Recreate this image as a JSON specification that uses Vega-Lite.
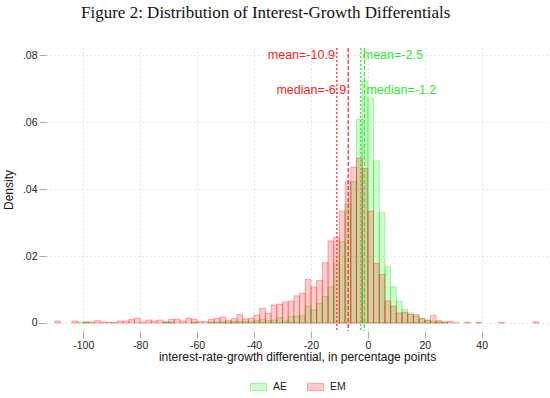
{
  "$schema": "https://vega.github.io/schema/vega-lite/v6.json",
  "width": 502,
  "height": 283,
  "autosize": {"type": "none"},
  "padding": {"left": 46, "top": 48, "right": 2, "bottom": 67},
  "title": {"text": "Figure 2: Distribution of Interest-Growth Differentials", "font": "Liberation Serif", "fontSize": 17, "fontWeight": "normal", "color": "#111111", "anchor": "start", "frame": "group", "dx": 35, "offset": 25},
  "datasets": {
    "hist": [
      {"group": "AE", "bin_start": -102, "bin_end": -100, "density": 0.0003},
      {"group": "AE", "bin_start": -100, "bin_end": -98, "density": 0.0002},
      {"group": "AE", "bin_start": -72, "bin_end": -70, "density": 0.0002},
      {"group": "AE", "bin_start": -70, "bin_end": -68, "density": 0.0003},
      {"group": "AE", "bin_start": -62, "bin_end": -60, "density": 0.0003},
      {"group": "AE", "bin_start": -56, "bin_end": -54, "density": 0.0003},
      {"group": "AE", "bin_start": -54, "bin_end": -52, "density": 0.0002},
      {"group": "AE", "bin_start": -52, "bin_end": -50, "density": 0.0004},
      {"group": "AE", "bin_start": -50, "bin_end": -48, "density": 0.0003},
      {"group": "AE", "bin_start": -48, "bin_end": -46, "density": 0.0004},
      {"group": "AE", "bin_start": -46, "bin_end": -44, "density": 0.0005},
      {"group": "AE", "bin_start": -44, "bin_end": -42, "density": 0.0004},
      {"group": "AE", "bin_start": -42, "bin_end": -40, "density": 0.0005},
      {"group": "AE", "bin_start": -40, "bin_end": -38, "density": 0.0007},
      {"group": "AE", "bin_start": -38, "bin_end": -36, "density": 0.0011},
      {"group": "AE", "bin_start": -36, "bin_end": -34, "density": 0.0007},
      {"group": "AE", "bin_start": -34, "bin_end": -32, "density": 0.0009},
      {"group": "AE", "bin_start": -32, "bin_end": -30, "density": 0.0016},
      {"group": "AE", "bin_start": -30, "bin_end": -28, "density": 0.0006},
      {"group": "AE", "bin_start": -28, "bin_end": -26, "density": 0.0019},
      {"group": "AE", "bin_start": -26, "bin_end": -24, "density": 0.0021},
      {"group": "AE", "bin_start": -24, "bin_end": -22, "density": 0.0022},
      {"group": "AE", "bin_start": -22, "bin_end": -20, "density": 0.0051},
      {"group": "AE", "bin_start": -20, "bin_end": -18, "density": 0.0039},
      {"group": "AE", "bin_start": -18, "bin_end": -16, "density": 0.0059},
      {"group": "AE", "bin_start": -16, "bin_end": -14, "density": 0.0079},
      {"group": "AE", "bin_start": -14, "bin_end": -12, "density": 0.0108},
      {"group": "AE", "bin_start": -12, "bin_end": -10, "density": 0.018},
      {"group": "AE", "bin_start": -10, "bin_end": -8, "density": 0.0243},
      {"group": "AE", "bin_start": -8, "bin_end": -6, "density": 0.0356},
      {"group": "AE", "bin_start": -6, "bin_end": -4, "density": 0.0422},
      {"group": "AE", "bin_start": -4, "bin_end": -2, "density": 0.0608},
      {"group": "AE", "bin_start": -2, "bin_end": 0, "density": 0.0722},
      {"group": "AE", "bin_start": 0, "bin_end": 2, "density": 0.0671},
      {"group": "AE", "bin_start": 2, "bin_end": 4, "density": 0.0484},
      {"group": "AE", "bin_start": 4, "bin_end": 6, "density": 0.0329},
      {"group": "AE", "bin_start": 6, "bin_end": 8, "density": 0.0168},
      {"group": "AE", "bin_start": 8, "bin_end": 10, "density": 0.0108},
      {"group": "AE", "bin_start": 10, "bin_end": 12, "density": 0.0065},
      {"group": "AE", "bin_start": 12, "bin_end": 14, "density": 0.0041},
      {"group": "AE", "bin_start": 14, "bin_end": 16, "density": 0.003},
      {"group": "AE", "bin_start": 16, "bin_end": 18, "density": 0.002},
      {"group": "AE", "bin_start": 18, "bin_end": 20, "density": 0.0012},
      {"group": "AE", "bin_start": 20, "bin_end": 22, "density": 0.0009},
      {"group": "AE", "bin_start": 22, "bin_end": 24, "density": 0.0006},
      {"group": "AE", "bin_start": 24, "bin_end": 26, "density": 0.0004},
      {"group": "AE", "bin_start": 26, "bin_end": 28, "density": 0.0002},
      {"group": "AE", "bin_start": 30, "bin_end": 32, "density": 0.0002},
      {"group": "EM", "bin_start": -110, "bin_end": -108, "density": 0.0006},
      {"group": "EM", "bin_start": -104, "bin_end": -102, "density": 0.0006},
      {"group": "EM", "bin_start": -100, "bin_end": -98, "density": 0.0003},
      {"group": "EM", "bin_start": -98, "bin_end": -96, "density": 0.0003},
      {"group": "EM", "bin_start": -96, "bin_end": -94, "density": 0.0007},
      {"group": "EM", "bin_start": -94, "bin_end": -92, "density": 0.0003},
      {"group": "EM", "bin_start": -92, "bin_end": -90, "density": 0.0002},
      {"group": "EM", "bin_start": -90, "bin_end": -88, "density": 0.0002},
      {"group": "EM", "bin_start": -88, "bin_end": -86, "density": 0.0006},
      {"group": "EM", "bin_start": -86, "bin_end": -84, "density": 0.0006},
      {"group": "EM", "bin_start": -84, "bin_end": -82, "density": 0.0011},
      {"group": "EM", "bin_start": -82, "bin_end": -80, "density": 0.0014},
      {"group": "EM", "bin_start": -80, "bin_end": -78, "density": 0.0002},
      {"group": "EM", "bin_start": -78, "bin_end": -76, "density": 0.0009},
      {"group": "EM", "bin_start": -76, "bin_end": -74, "density": 0.0006},
      {"group": "EM", "bin_start": -74, "bin_end": -72, "density": 0.0009},
      {"group": "EM", "bin_start": -72, "bin_end": -70, "density": 0.0004},
      {"group": "EM", "bin_start": -70, "bin_end": -68, "density": 0.0011},
      {"group": "EM", "bin_start": -68, "bin_end": -66, "density": 0.0011},
      {"group": "EM", "bin_start": -66, "bin_end": -64, "density": 0.0006},
      {"group": "EM", "bin_start": -64, "bin_end": -62, "density": 0.0014},
      {"group": "EM", "bin_start": -62, "bin_end": -60, "density": 0.0011},
      {"group": "EM", "bin_start": -60, "bin_end": -58, "density": 0.0004},
      {"group": "EM", "bin_start": -58, "bin_end": -56, "density": 0.0004},
      {"group": "EM", "bin_start": -56, "bin_end": -54, "density": 0.0011},
      {"group": "EM", "bin_start": -54, "bin_end": -52, "density": 0.0014},
      {"group": "EM", "bin_start": -52, "bin_end": -50, "density": 0.0018},
      {"group": "EM", "bin_start": -50, "bin_end": -48, "density": 0.0008},
      {"group": "EM", "bin_start": -48, "bin_end": -46, "density": 0.0013},
      {"group": "EM", "bin_start": -46, "bin_end": -44, "density": 0.0026},
      {"group": "EM", "bin_start": -44, "bin_end": -42, "density": 0.0012},
      {"group": "EM", "bin_start": -42, "bin_end": -40, "density": 0.0014},
      {"group": "EM", "bin_start": -40, "bin_end": -38, "density": 0.0024},
      {"group": "EM", "bin_start": -38, "bin_end": -36, "density": 0.0044},
      {"group": "EM", "bin_start": -36, "bin_end": -34, "density": 0.0029},
      {"group": "EM", "bin_start": -34, "bin_end": -32, "density": 0.0054},
      {"group": "EM", "bin_start": -32, "bin_end": -30, "density": 0.0056},
      {"group": "EM", "bin_start": -30, "bin_end": -28, "density": 0.0063},
      {"group": "EM", "bin_start": -28, "bin_end": -26, "density": 0.0065},
      {"group": "EM", "bin_start": -26, "bin_end": -24, "density": 0.0081},
      {"group": "EM", "bin_start": -24, "bin_end": -22, "density": 0.0089},
      {"group": "EM", "bin_start": -22, "bin_end": -20, "density": 0.013},
      {"group": "EM", "bin_start": -20, "bin_end": -18, "density": 0.0108},
      {"group": "EM", "bin_start": -18, "bin_end": -16, "density": 0.0127},
      {"group": "EM", "bin_start": -16, "bin_end": -14, "density": 0.018},
      {"group": "EM", "bin_start": -14, "bin_end": -12, "density": 0.0245},
      {"group": "EM", "bin_start": -12, "bin_end": -10, "density": 0.0256},
      {"group": "EM", "bin_start": -10, "bin_end": -8, "density": 0.0334},
      {"group": "EM", "bin_start": -8, "bin_end": -6, "density": 0.0422},
      {"group": "EM", "bin_start": -6, "bin_end": -4, "density": 0.0465},
      {"group": "EM", "bin_start": -4, "bin_end": -2, "density": 0.0492},
      {"group": "EM", "bin_start": -2, "bin_end": 0, "density": 0.0462},
      {"group": "EM", "bin_start": 0, "bin_end": 2, "density": 0.0334},
      {"group": "EM", "bin_start": 2, "bin_end": 4, "density": 0.0178},
      {"group": "EM", "bin_start": 4, "bin_end": 6, "density": 0.0145},
      {"group": "EM", "bin_start": 6, "bin_end": 8, "density": 0.0066},
      {"group": "EM", "bin_start": 8, "bin_end": 10, "density": 0.0051},
      {"group": "EM", "bin_start": 10, "bin_end": 12, "density": 0.003},
      {"group": "EM", "bin_start": 12, "bin_end": 14, "density": 0.0032},
      {"group": "EM", "bin_start": 14, "bin_end": 16, "density": 0.0026},
      {"group": "EM", "bin_start": 16, "bin_end": 18, "density": 0.0025},
      {"group": "EM", "bin_start": 18, "bin_end": 20, "density": 0.0014},
      {"group": "EM", "bin_start": 20, "bin_end": 22, "density": 0.0008},
      {"group": "EM", "bin_start": 22, "bin_end": 24, "density": 0.0023},
      {"group": "EM", "bin_start": 24, "bin_end": 26, "density": 0.0007},
      {"group": "EM", "bin_start": 26, "bin_end": 28, "density": 0.0003},
      {"group": "EM", "bin_start": 28, "bin_end": 30, "density": 0.0005},
      {"group": "EM", "bin_start": 34, "bin_end": 36, "density": 0.0002},
      {"group": "EM", "bin_start": 38, "bin_end": 40, "density": 0.0002},
      {"group": "EM", "bin_start": 46, "bin_end": 48, "density": 0.0002},
      {"group": "EM", "bin_start": 58, "bin_end": 60, "density": 0.0003}
    ],
    "stats": [
      {"group": "EM", "stat": "mean", "value": -10.9, "label": "mean=-10.9"},
      {"group": "EM", "stat": "median", "value": -6.9, "label": "median=-6.9"},
      {"group": "AE", "stat": "mean", "value": -2.5, "label": "mean=-2.5"},
      {"group": "AE", "stat": "median", "value": -1.2, "label": "median=-1.2"}
    ]
  },
  "layer": [
    {
      "data": {"name": "hist"},
      "mark": {"type": "bar", "strokeWidth": 1},
      "encoding": {
        "x": {
          "field": "bin_start", "type": "quantitative",
          "scale": {"domain": [-113.1, 63.3], "nice": false, "zero": false},
          "axis": {
            "values": [-100, -80, -60, -40, -20, 0, 20, 40],
            "labelExpr": "'' + datum.value",
            "title": "interest-rate-growth differential, in percentage points",
            "domain": false, "tickSize": 7, "tickColor": "#aaaaaa",
            "labelPadding": 2, "labelFontSize": 10.5, "labelColor": "#222222", "labelFont": "Liberation Sans",
            "titleFont": "Liberation Sans", "titleFontSize": 12, "titleFontWeight": "normal", "titleColor": "#111111", "titlePadding": 1,
            "grid": true, "gridDash": [1, 3], "gridColor": "#d0d0d0"
          }
        },
        "x2": {"field": "bin_end"},
        "y": {
          "field": "density", "type": "quantitative",
          "scale": {"domain": [-0.00239, 0.0821], "nice": false, "zero": false},
          "axis": {
            "values": [0, 0.02, 0.04, 0.06, 0.08],
            "labelExpr": "datum.value == 0 ? '0' : replace(format(datum.value, '.2f'), '0.', '.')",
            "title": "Density",
            "domain": false, "tickSize": 7, "tickColor": "#aaaaaa",
            "labelPadding": 2, "labelFontSize": 10.5, "labelColor": "#222222", "labelFont": "Liberation Sans",
            "titleFont": "Liberation Sans", "titleFontSize": 12, "titleFontWeight": "normal", "titleColor": "#111111", "titlePadding": 7,
            "grid": true, "gridDash": [1, 3], "gridColor": "#d0d0d0"
          }
        },
        "y2": {"datum": 0},
        "fill": {
          "field": "group", "type": "nominal",
          "scale": {"domain": ["AE", "EM"], "range": ["rgba(0,255,0,0.2)", "rgba(255,0,0,0.2)"]},
          "legend": {"title": null, "orient": "none", "legendX": 204, "legendY": 330, "direction": "horizontal", "symbolType": "M-1,-0.45H1V0.45H-1Z", "symbolSize": 256, "symbolStrokeWidth": 1, "labelFont": "Liberation Sans", "labelFontSize": 10.5, "labelColor": "#222222", "labelOffset": 6, "columnPadding": 17, "padding": 0}
        },
        "stroke": {
          "field": "group", "type": "nominal",
          "scale": {"domain": ["AE", "EM"], "range": ["rgba(0,210,0,0.3)", "rgba(255,0,0,0.3)"]},
          "legend": {"title": null, "orient": "none", "legendX": 204, "legendY": 330, "direction": "horizontal", "symbolType": "M-1,-0.45H1V0.45H-1Z", "symbolSize": 256, "symbolStrokeWidth": 1, "labelFont": "Liberation Sans", "labelFontSize": 10.5, "labelColor": "#222222", "labelOffset": 6, "columnPadding": 17, "padding": 0}
        }
      }
    },
    {
      "mark": {"type": "rule", "color": "#aaaaaa", "strokeWidth": 1},
      "encoding": {"x": {"datum": -113.1}, "y": {"datum": 0}, "y2": {"datum": 0.08}}
    },
    {
      "mark": {"type": "rule", "color": "#aaaaaa", "strokeWidth": 1},
      "encoding": {"x": {"datum": -100}, "x2": {"datum": 50}, "y": {"datum": -0.00239}}
    },
    {
      "data": {"name": "stats"},
      "transform": [{"filter": "datum.group == 'EM' && datum.stat == 'mean'"}],
      "mark": {"type": "rule", "color": "#ff3030", "strokeWidth": 1.3, "strokeDash": [2, 2]},
      "encoding": {"x": {"field": "value", "type": "quantitative"}}
    },
    {
      "data": {"name": "stats"},
      "transform": [{"filter": "datum.group == 'EM' && datum.stat == 'median'"}],
      "mark": {"type": "rule", "color": "#ff3030", "strokeWidth": 1.3, "strokeDash": [4, 2]},
      "encoding": {"x": {"field": "value", "type": "quantitative"}}
    },
    {
      "data": {"name": "stats"},
      "transform": [{"filter": "datum.group == 'AE' && datum.stat == 'mean'"}],
      "mark": {"type": "rule", "color": "#33ee33", "strokeWidth": 1.3, "strokeDash": [2, 2]},
      "encoding": {"x": {"field": "value", "type": "quantitative"}}
    },
    {
      "data": {"name": "stats"},
      "transform": [{"filter": "datum.group == 'AE' && datum.stat == 'median'"}],
      "mark": {"type": "rule", "color": "#33ee33", "strokeWidth": 1.3, "strokeDash": [4, 2]},
      "encoding": {"x": {"field": "value", "type": "quantitative"}}
    },
    {
      "data": {"name": "stats"},
      "transform": [{"filter": "datum.group == 'EM' && datum.stat == 'mean'"}],
      "mark": {"type": "text", "align": "right", "baseline": "middle", "dx": -2, "font": "Liberation Sans", "fontSize": 12.5, "color": "#ff2020"},
      "encoding": {"x": {"field": "value", "type": "quantitative"}, "y": {"datum": 0.08}, "text": {"field": "label"}}
    },
    {
      "data": {"name": "stats"},
      "transform": [{"filter": "datum.group == 'EM' && datum.stat == 'median'"}],
      "mark": {"type": "text", "align": "right", "baseline": "middle", "dx": -2, "font": "Liberation Sans", "fontSize": 12.5, "color": "#ff2020"},
      "encoding": {"x": {"field": "value", "type": "quantitative"}, "y": {"datum": 0.0696}, "text": {"field": "label"}}
    },
    {
      "data": {"name": "stats"},
      "transform": [{"filter": "datum.group == 'AE' && datum.stat == 'mean'"}],
      "mark": {"type": "text", "align": "left", "baseline": "middle", "dx": 2, "font": "Liberation Sans", "fontSize": 12.5, "color": "#2ee82e"},
      "encoding": {"x": {"field": "value", "type": "quantitative"}, "y": {"datum": 0.08}, "text": {"field": "label"}}
    },
    {
      "data": {"name": "stats"},
      "transform": [{"filter": "datum.group == 'AE' && datum.stat == 'median'"}],
      "mark": {"type": "text", "align": "left", "baseline": "middle", "dx": 2, "font": "Liberation Sans", "fontSize": 12.5, "color": "#2ee82e"},
      "encoding": {"x": {"field": "value", "type": "quantitative"}, "y": {"datum": 0.0696}, "text": {"field": "label"}}
    }
  ],
  "config": {
    "view": {"stroke": null},
    "font": "Liberation Sans"
  }
}
